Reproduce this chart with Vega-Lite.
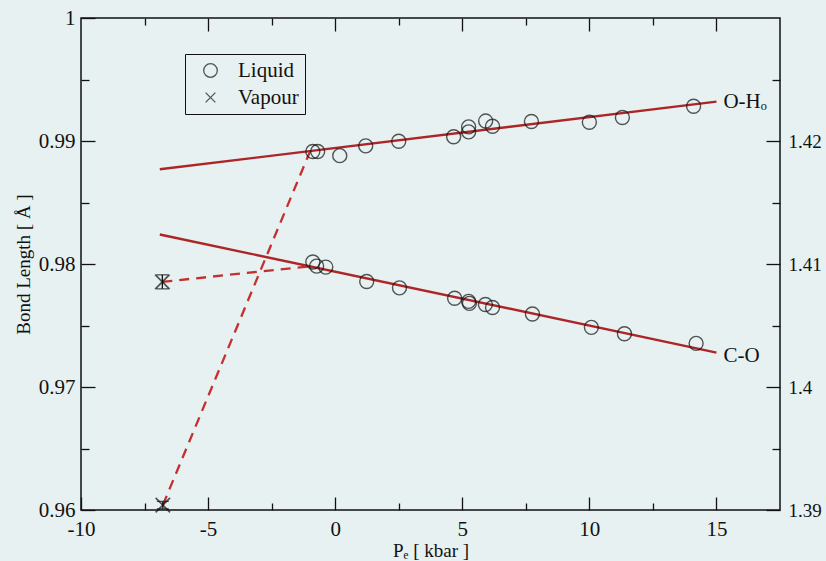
{
  "$schema": "https://vega.github.io/schema/vega-lite/v6.json",
  "width": 699,
  "height": 492,
  "autosize": {"type": "none"},
  "padding": {"left": 81, "top": 18, "right": 46, "bottom": 51},
  "background": "#e7f1f1",
  "config": {
    "view": {"stroke": "#111", "strokeWidth": 1.5},
    "axis": {
      "grid": false, "domain": false,
      "labelFont": "Liberation Serif", "titleFont": "Liberation Serif",
      "labelFontSize": 21, "titleFontSize": 19, "titleFontWeight": "normal",
      "labelColor": "#111", "titleColor": "#111", "tickColor": "#111", "tickWidth": 1.3,
      "labelFlush": false
    },
    "legend": {
      "orient": "none", "legendX": 104, "legendY": 36, "title": null,
      "strokeColor": "#111", "padding": 6, "symbolOffset": 9,
      "labelFont": "Liberation Serif", "labelFontSize": 21, "labelColor": "#111",
      "labelOffset": 17, "rowPadding": 5, "symbolSize": 185,
      "symbolStrokeWidth": 1.3, "symbolStrokeColor": "#111"
    },
    "text": {"font": "Liberation Serif"}
  },
  "datasets": {
    "fits": [
      {"bond": "OH", "P": -6.9, "L": 0.9877}, {"bond": "OH", "P": 15, "L": 0.9932},
      {"bond": "CO", "P": -6.9, "L": 0.9824}, {"bond": "CO", "P": 15, "L": 0.9728}
    ],
    "dashed": [
      {"bond": "OH", "P": -6.78, "L": 0.9604}, {"bond": "OH", "P": -1.0, "L": 0.9891},
      {"bond": "CO", "P": -6.8, "L": 0.97855}, {"bond": "CO", "P": -1.05, "L": 0.9798}
    ],
    "liquid": [
      {"bond": "OH", "phase": "Liquid", "P": -0.88, "L": 0.98915},
      {"bond": "OH", "phase": "Liquid", "P": -0.69, "L": 0.98915},
      {"bond": "OH", "phase": "Liquid", "P": 0.18, "L": 0.98881},
      {"bond": "OH", "phase": "Liquid", "P": 1.2, "L": 0.9896},
      {"bond": "OH", "phase": "Liquid", "P": 2.5, "L": 0.98998},
      {"bond": "OH", "phase": "Liquid", "P": 4.66, "L": 0.99034},
      {"bond": "OH", "phase": "Liquid", "P": 5.25, "L": 0.99115},
      {"bond": "OH", "phase": "Liquid", "P": 5.25, "L": 0.99074},
      {"bond": "OH", "phase": "Liquid", "P": 5.92, "L": 0.99162},
      {"bond": "OH", "phase": "Liquid", "P": 6.19, "L": 0.9912},
      {"bond": "OH", "phase": "Liquid", "P": 7.72, "L": 0.99158},
      {"bond": "OH", "phase": "Liquid", "P": 10.0, "L": 0.99153},
      {"bond": "OH", "phase": "Liquid", "P": 11.3, "L": 0.99191},
      {"bond": "OH", "phase": "Liquid", "P": 14.1, "L": 0.99283},
      {"bond": "CO", "phase": "Liquid", "P": -0.88, "L": 0.98016},
      {"bond": "CO", "phase": "Liquid", "P": -0.73, "L": 0.97983},
      {"bond": "CO", "phase": "Liquid", "P": -0.37, "L": 0.97975},
      {"bond": "CO", "phase": "Liquid", "P": 1.24, "L": 0.97858},
      {"bond": "CO", "phase": "Liquid", "P": 2.53, "L": 0.97806},
      {"bond": "CO", "phase": "Liquid", "P": 4.7, "L": 0.97722},
      {"bond": "CO", "phase": "Liquid", "P": 5.25, "L": 0.97696},
      {"bond": "CO", "phase": "Liquid", "P": 5.28, "L": 0.9768},
      {"bond": "CO", "phase": "Liquid", "P": 5.91, "L": 0.97671},
      {"bond": "CO", "phase": "Liquid", "P": 6.19, "L": 0.97646},
      {"bond": "CO", "phase": "Liquid", "P": 7.76, "L": 0.97594},
      {"bond": "CO", "phase": "Liquid", "P": 10.08, "L": 0.97485},
      {"bond": "CO", "phase": "Liquid", "P": 11.38, "L": 0.97433},
      {"bond": "CO", "phase": "Liquid", "P": 14.2, "L": 0.97355}
    ],
    "vapour": [
      {"bond": "OH", "phase": "Vapour", "P": -6.78, "L": 0.9604, "lo": 0.9601, "hi": 0.9607},
      {"bond": "CO", "phase": "Vapour", "P": -6.8, "L": 0.97855, "lo": 0.97798, "hi": 0.97912}
    ],
    "labels": [
      {"P": 15, "L": 0.9932, "text": "O-Hₒ"},
      {"P": 15, "L": 0.9725, "text": "C-O"}
    ]
  },
  "layer": [
    {
      "data": {"name": "fits"},
      "mark": {"type": "line", "color": "#ad2527", "strokeWidth": 2.4},
      "encoding": {
        "x": {"field": "P", "type": "quantitative",
          "scale": {"domain": [-10, 17.5], "nice": false, "zero": false},
          "axis": {"orient": "bottom", "values": [-10, -5, 0, 5, 10, 15], "tickSize": -13, "labelPadding": 21,
            "labelExpr": "'' + datum.value", "title": "Pₑ [ kbar ]", "titlePadding": 2}},
        "y": {"field": "L", "type": "quantitative",
          "scale": {"domain": [0.96, 1.0], "nice": false, "zero": false},
          "axis": {"orient": "left", "values": [0.96, 0.97, 0.98, 0.99, 1.0], "format": ".2~f", "tickSize": -14,
            "labelPadding": 20, "title": "Bond Length [ Å ]", "titlePadding": 5}},
        "detail": {"field": "bond"}
      }
    },
    {
      "data": {"name": "dashed"},
      "mark": {"type": "line", "color": "#c4302f", "strokeWidth": 2.3, "strokeDash": [10, 7]},
      "encoding": {
        "x": {"field": "P", "type": "quantitative",
          "axis": {"orient": "bottom", "values": [-7.5, -2.5, 2.5, 7.5, 12.5], "tickSize": -7, "labels": false, "title": null}},
        "y": {"field": "L", "type": "quantitative",
          "axis": {"orient": "left", "values": [0.965, 0.975, 0.985, 0.995], "tickSize": -8, "labels": false, "title": null}},
        "detail": {"field": "bond"}
      }
    },
    {
      "data": {"name": "liquid"},
      "mark": {"type": "point", "filled": false, "color": "#111", "strokeWidth": 1.4, "size": 196},
      "encoding": {
        "x": {"field": "P", "type": "quantitative",
          "axis": {"orient": "top", "values": [-5, 0, 5, 10, 15], "tickSize": -13, "labels": false, "title": null}},
        "y": {"field": "L", "type": "quantitative",
          "axis": {"orient": "right", "values": [0.96, 0.97, 0.98, 0.99], "tickSize": -14, "labelPadding": 22,
            "labelFontSize": 19, "labelExpr": "format(datum.value + 0.43, '.2~f')", "title": null}},
        "shape": {"field": "phase", "type": "nominal",
          "scale": {"domain": ["Liquid", "Vapour"], "range": ["circle", "M-0.72,-0.72L0.72,0.72M0.72,-0.72L-0.72,0.72"]}}
      }
    },
    {
      "data": {"name": "vapour"},
      "mark": {"type": "point", "filled": false, "color": "#111", "strokeWidth": 1.7, "size": 400},
      "encoding": {
        "x": {"field": "P", "type": "quantitative",
          "axis": {"orient": "top", "values": [-7.5, -2.5, 2.5, 7.5, 12.5], "tickSize": -7, "labels": false, "title": null}},
        "y": {"field": "L", "type": "quantitative",
          "axis": {"orient": "right", "values": [0.965, 0.975, 0.985, 0.995], "tickSize": -8, "labels": false, "title": null}},
        "shape": {"field": "phase", "type": "nominal"}
      }
    },
    {
      "data": {"name": "vapour"},
      "mark": {"type": "rule", "color": "#111", "strokeWidth": 1.3},
      "encoding": {
        "x": {"field": "P", "type": "quantitative", "axis": null},
        "y": {"field": "lo", "type": "quantitative", "axis": null},
        "y2": {"field": "hi"}
      }
    },
    {
      "data": {"name": "vapour"},
      "mark": {"type": "tick", "orient": "horizontal", "color": "#111", "size": 12, "thickness": 1.3},
      "encoding": {
        "x": {"field": "P", "type": "quantitative", "axis": null},
        "y": {"field": "lo", "type": "quantitative", "axis": null}
      }
    },
    {
      "data": {"name": "vapour"},
      "mark": {"type": "tick", "orient": "horizontal", "color": "#111", "size": 12, "thickness": 1.3},
      "encoding": {
        "x": {"field": "P", "type": "quantitative", "axis": null},
        "y": {"field": "hi", "type": "quantitative", "axis": null}
      }
    },
    {
      "data": {"name": "labels"},
      "mark": {"type": "text", "align": "left", "baseline": "middle", "dx": 7, "fontSize": 21, "color": "#111", "font": "Liberation Serif"},
      "encoding": {
        "x": {"field": "P", "type": "quantitative", "axis": null},
        "y": {"field": "L", "type": "quantitative", "axis": null},
        "text": {"field": "text"}
      }
    }
  ],
  "resolve": {"axis": {"x": "independent", "y": "independent"}}
}
